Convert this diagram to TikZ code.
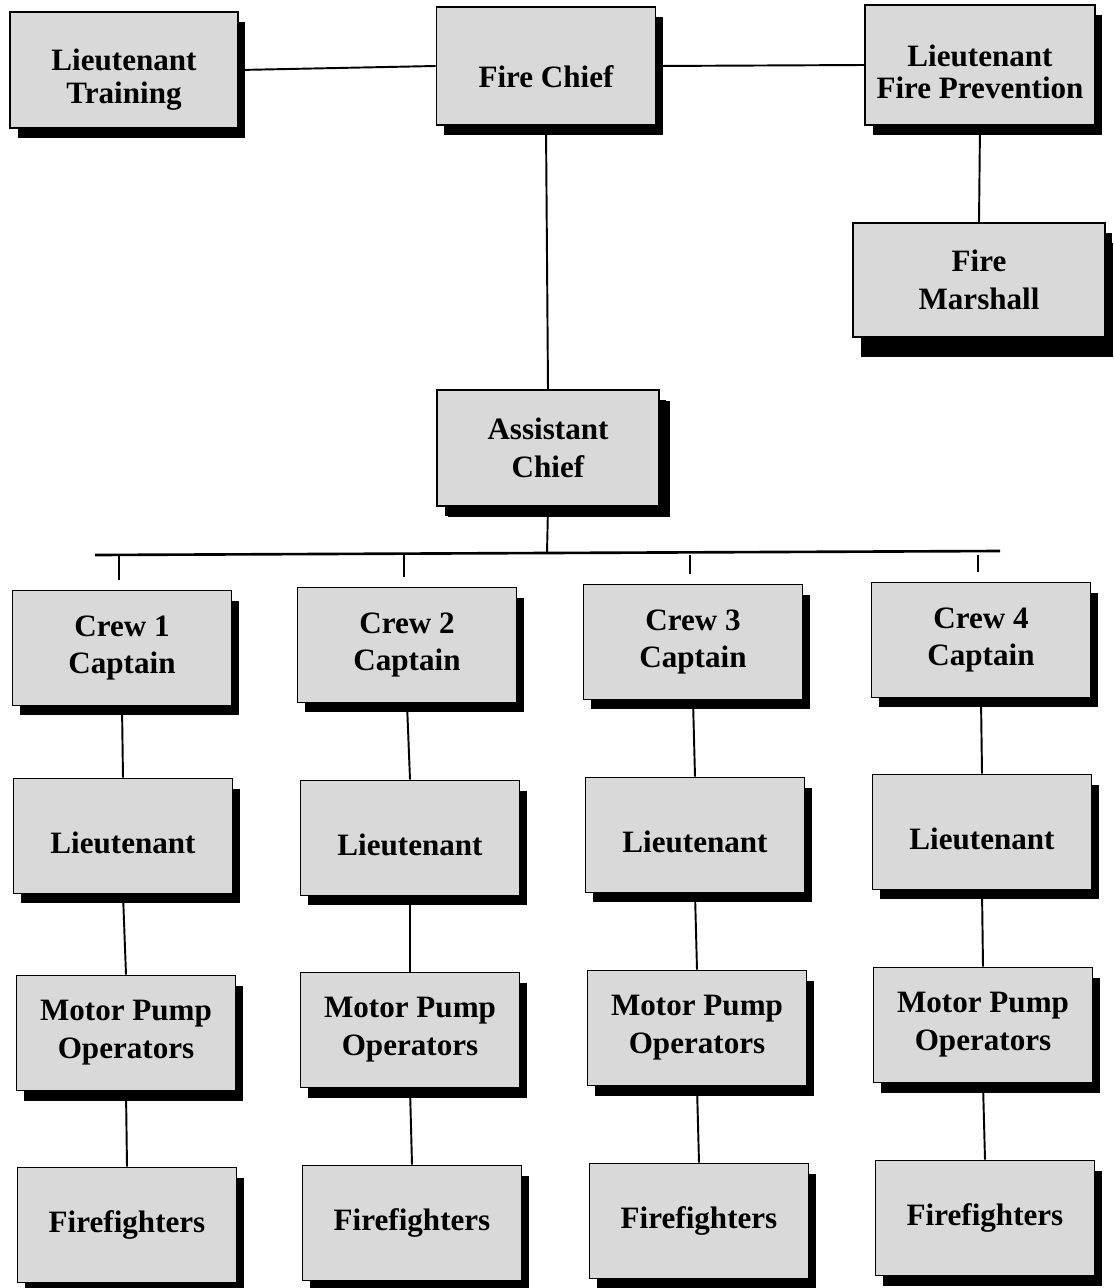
\documentclass[tikz,border=0pt]{standalone}
\usepackage{fontspec}
\setmainfont{Liberation Serif}
\usetikzlibrary{shadows,calc}

\tikzset{
  post/.style={draw=black, line width=1.1pt, fill=black!15,
    minimum width=4.38cm, minimum height=2.3cm, align=center,
    font=\bfseries\fontsize{17.7}{21.5}\selectfont,
    drop shadow={shadow xshift=0.15cm, shadow yshift=-0.2cm, fill=black, opacity=1}},
  single/.style={text height=20pt, text depth=0pt},
  link/.style={line width=1.1pt}
}

\begin{document}
\begin{tikzpicture}[x=0.02cm, y=-0.02cm]
  \useasboundingbox (0,0) rectangle (1113,1288);

  % top row
  \node[post, minimum width=4.56cm, minimum height=2.32cm, text height=42pt, font=\bfseries\fontsize{17.7}{18.5}\selectfont] (lttrain) at (124,70) {Lieutenant\\Training};
  \node[post, minimum height=2.36cm, text height=25pt, text depth=0pt] (chief) at (546,66) {Fire Chief};
  \node[post, minimum width=4.6cm, minimum height=2.4cm, text height=38.5pt, font=\bfseries\fontsize{17.7}{18.5}\selectfont] (ltfp) at (980,65) {Lieutenant\\Fire Prevention};
  \node[post, minimum width=5.04cm, minimum height=2.28cm,
        drop shadow={shadow xshift=0.16cm, shadow yshift=-0.4cm, fill=black, opacity=1}] (marshal) at (979,280) {Fire\\Marshall};
  \node[post, minimum width=4.44cm, minimum height=2.32cm,
        drop shadow={shadow xshift=0.22cm, shadow yshift=-0.22cm, fill=black, opacity=1}] (asst) at (548,448) {Assistant\\Chief};

  % crews
  \node[post] (crew1) at (122,648) {Crew 1\\Captain};
  \node[post] (crew2) at (407,645) {Crew 2\\Captain};
  \node[post] (crew3) at (693,642) {Crew 3\\Captain};
  \node[post] (crew4) at (981,640) {Crew 4\\Captain};

  \node[post, single] (lt1) at (123,836) {Lieutenant};
  \node[post, single] (lt2) at (410,838) {Lieutenant};
  \node[post, single] (lt3) at (695,835) {Lieutenant};
  \node[post, single] (lt4) at (982,832) {Lieutenant};

  \node[post] (mpo1) at (126,1033) {Motor Pump\\Operators};
  \node[post] (mpo2) at (410,1030) {Motor Pump\\Operators};
  \node[post] (mpo3) at (697,1028) {Motor Pump\\Operators};
  \node[post] (mpo4) at (983,1025) {Motor Pump\\Operators};

  \node[post] (ff1) at (127,1225) {Firefighters};
  \node[post] (ff2) at (412,1223) {Firefighters};
  \node[post] (ff3) at (699,1221) {Firefighters};
  \node[post] (ff4) at (985,1218) {Firefighters};

  % bus under the assistant chief
  \coordinate (busL) at (95,555);
  \coordinate (busR) at (1000,551);
  \coordinate (busM) at (547,553);

  \draw[link] (lttrain.east) -- (chief.west);
  \draw[link] (chief.east) -- (ltfp.west);
  \draw[link] (ltfp.south) -- (marshal.north);
  \draw[link] (chief.south) -- (asst.north);
  \draw[link] (asst.south) -- (busM);
  \draw[link, line width=1.5pt] (busL) -- (busR);

  \foreach \i in {1,2,3,4} {
    \draw[link] ($(crew\i.north |- busL)+(-3,0)$) -- ($(crew\i.north)+(-3,-10)$);
    \draw[link] (crew\i.south) -- (lt\i.north);
    \draw[link] (lt\i.south) -- (mpo\i.north);
    \draw[link] (mpo\i.south) -- (ff\i.north);
  }
\end{tikzpicture}
\end{document}
